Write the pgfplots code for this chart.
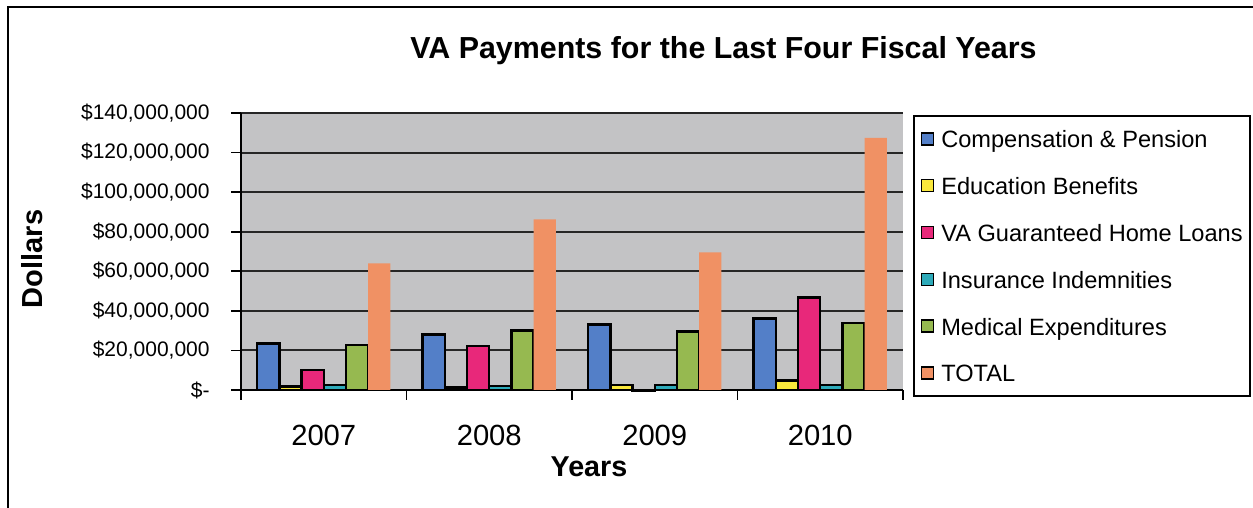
\documentclass[border=0pt]{standalone}
\usepackage{fontspec}
\setmainfont{Liberation Sans}
\usepackage{pgfplots}
\pgfplotsset{compat=1.18}
\definecolor{cblue}{RGB}{83,127,200}
\definecolor{cyellow}{RGB}{250,232,60}
\definecolor{cpink}{RGB}{232,40,122}
\definecolor{cteal}{RGB}{45,170,185}
\definecolor{cgreen}{RGB}{150,185,80}
\definecolor{corange}{RGB}{240,145,100}
\definecolor{bggray}{RGB}{195,195,197}
\begin{document}
\begin{tikzpicture}
\useasboundingbox (0,0) rectangle (626.5pt,254pt);
\fill[white] (0,0) rectangle (626.5pt,254pt);
\draw[line width=1pt] (626.5pt,250.5pt) -- (4pt,250.5pt) -- (4pt,0pt);
\node[anchor=base,font=\fontsize{15.2}{18}\selectfont\bfseries] at (361.75pt,224.5pt) {VA Payments for the Last Four Fiscal Years};
\node[rotate=90,anchor=center,font=\fontsize{14.5}{17}\selectfont\bfseries] at (16pt,124.5pt) {Dollars};
\node[anchor=base,font=\fontsize{14.35}{17}\selectfont\bfseries] at (294.5pt,15.5pt) {Years};
\begin{axis}[
  at={(120.5pt,59pt)}, anchor=south west,
  scale only axis, width=331pt, height=138.5pt,
  xmin=-0.5, xmax=3.5, ymin=0, ymax=140000000,
  enlargelimits=false, clip=false, scaled y ticks=false,
  axis x line*=bottom, axis y line*=left,
  axis line style={line width=0.8pt, black},
  axis background/.style={fill=bggray},
  ybar=0pt, bar width=11.1pt,
  ymajorgrids, grid style={line width=1pt, black!85},
  tick align=outside, major tick length=5pt,
  tick style={line width=0.8pt, black},
  xtick={-0.5,0.5,1.5,2.5,3.5}, xticklabels={,,,,},
  extra x ticks={0,1,2,3}, extra x tick labels={2007,2008,2009,2010},
  extra x tick style={major tick length=0pt},
  x tick label style={font=\fontsize{14.6}{17}\selectfont, anchor=base, yshift=-28pt},
  ytick={0,20000000,40000000,60000000,80000000,100000000,120000000,140000000},
  yticklabels={{\$-},{\$20,000,000},{\$40,000,000},{\$60,000,000},{\$80,000,000},{\$100,000,000},{\$120,000,000},{\$140,000,000}},
  y tick label style={font=\fontsize{10.5}{12}\selectfont, anchor=east, inner sep=0pt, xshift=-10.5pt},
  legend style={at={(1,1)}, anchor=north west, xshift=5pt, yshift=-1pt,
    draw=black, line width=0.9pt, fill=white,
    inner xsep=3.5pt, inner ysep=6pt, row sep=12.4pt, column sep=3.5pt,
    font=\fontsize{11.8}{13}\selectfont,
    nodes={inner sep=0pt, text height=10pt, text depth=1pt}},
  legend cell align=left,
  legend image code/.code={\draw[#1, line width=0.7pt] (0pt,-3pt) rectangle (6pt,3pt);},
]
\addplot[fill=cblue, draw=black, line width=1.2pt] coordinates {(0,23600000) (1,28100000) (2,33200000) (3,36200000)};
\addlegendentry{Compensation \& Pension}
\addplot[fill=cyellow, draw=black, line width=1.2pt] coordinates {(0,1700000) (1,1200000) (2,2500000) (3,4700000)};
\addlegendentry{Education Benefits}
\addplot[fill=cpink, draw=black, line width=1.2pt] coordinates {(0,10100000) (1,22200000) (2,-600000) (3,46800000)};
\addlegendentry{VA Guaranteed Home Loans}
\addplot[fill=cteal, draw=black, line width=1.2pt] coordinates {(0,2500000) (1,2000000) (2,2500000) (3,2500000)};
\addlegendentry{Insurance Indemnities}
\addplot[fill=cgreen, draw=black, line width=1.2pt] coordinates {(0,22700000) (1,30000000) (2,29500000) (3,34000000)};
\addlegendentry{Medical Expenditures}
\addplot[fill=corange, draw=none] coordinates {(0,64000000) (1,86200000) (2,69500000) (3,127400000)};
\addlegendentry{TOTAL}
\end{axis}
\end{tikzpicture}
\end{document}
